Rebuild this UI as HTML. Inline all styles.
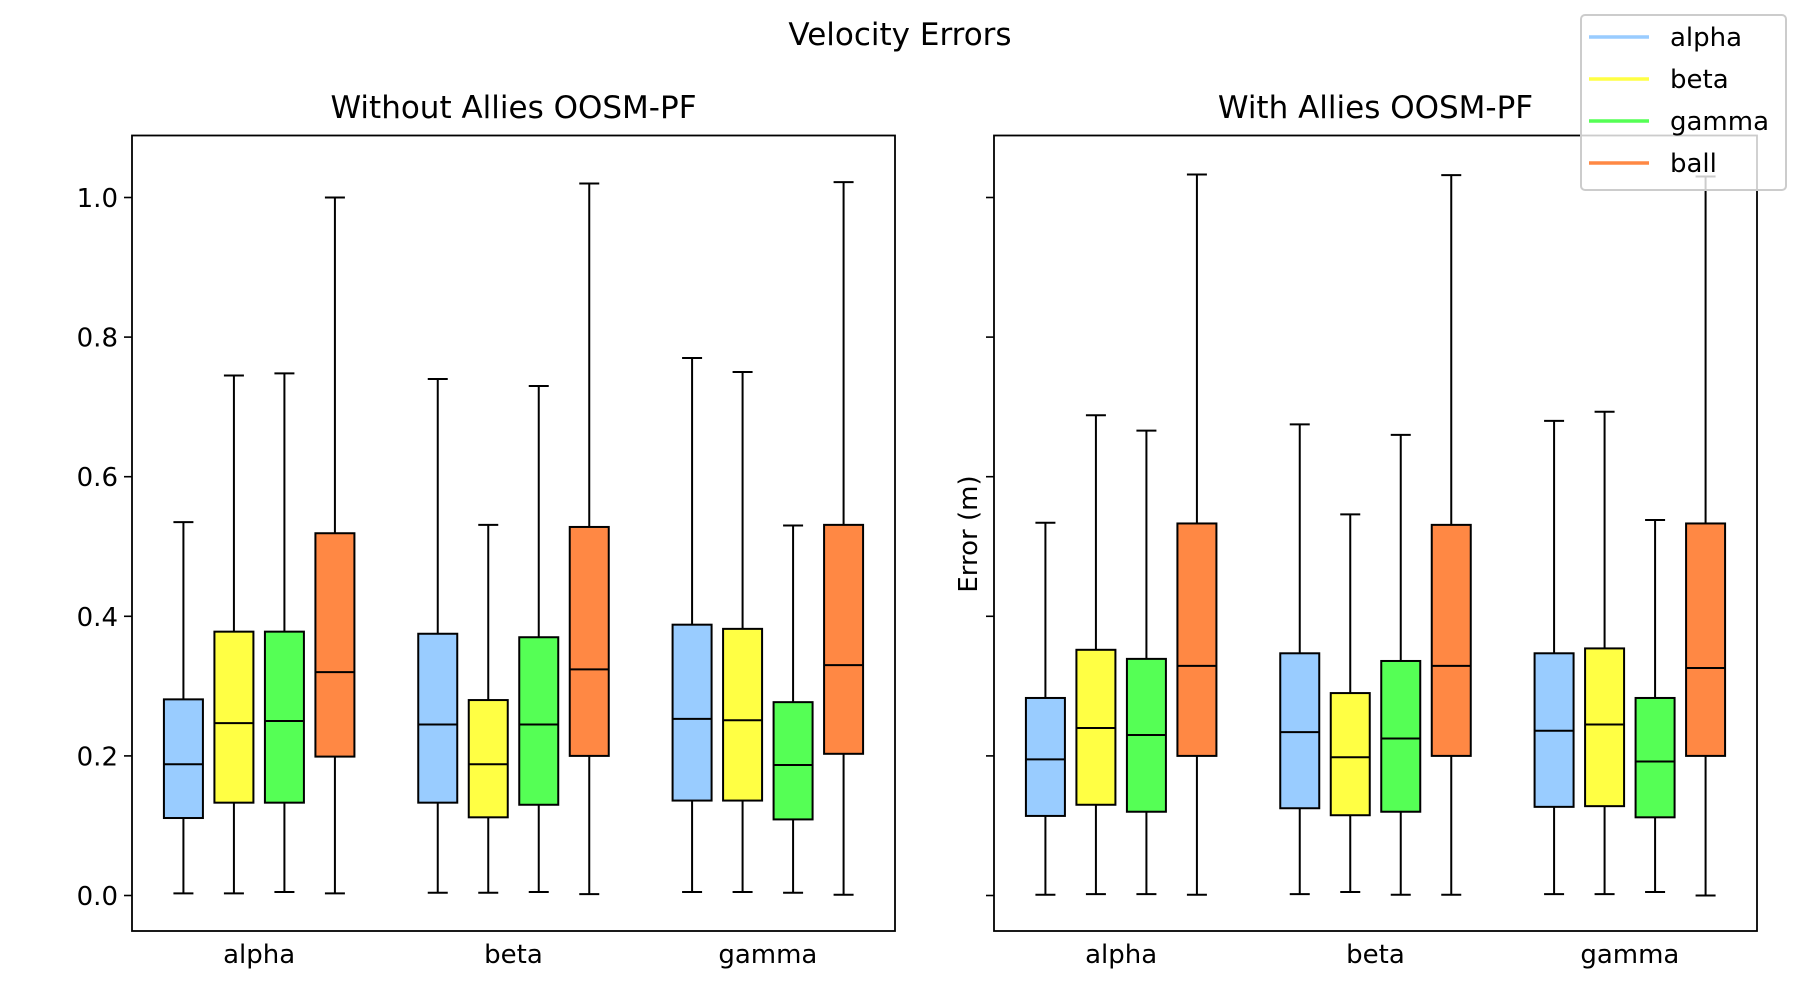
<!DOCTYPE html>
<html><head><meta charset="utf-8"><style>
body{margin:0;background:#fff}
svg{display:block;font-family:"DejaVu Sans","Liberation Sans",sans-serif}
</style></head><body>
<svg id="chart" width="1800" height="1000" viewBox="0 0 1800 1000"></svg>
<script>
const groups = ["alpha","beta","gamma"];
const series = ["alpha","beta","gamma","ball"];
const colors = ["#99ccff","#ffff44","#55ff55","#ff8844"];
const yTicks = [0,0.2,0.4,0.6,0.8,1.0];
const yTickLabels = ["0.0","0.2","0.4","0.6","0.8","1.0"];
// [low, q1, median, q3, high] per group per series
const leftData = [
 [[0.003,0.111,0.188,0.281,0.535],[0.003,0.133,0.247,0.378,0.745],[0.005,0.133,0.25,0.378,0.748],[0.003,0.199,0.32,0.519,1.0]],
 [[0.004,0.133,0.245,0.375,0.74],[0.004,0.112,0.188,0.28,0.531],[0.005,0.13,0.245,0.37,0.73],[0.002,0.2,0.324,0.528,1.02]],
 [[0.005,0.136,0.253,0.388,0.77],[0.005,0.136,0.251,0.382,0.75],[0.004,0.109,0.187,0.277,0.53],[0.001,0.203,0.33,0.531,1.022]]
];
const rightData = [
 [[0.001,0.114,0.195,0.283,0.534],[0.002,0.13,0.24,0.352,0.688],[0.002,0.12,0.23,0.339,0.666],[0.001,0.2,0.329,0.533,1.033]],
 [[0.002,0.125,0.234,0.347,0.675],[0.005,0.115,0.198,0.29,0.546],[0.001,0.12,0.225,0.336,0.66],[0.001,0.2,0.329,0.531,1.032]],
 [[0.002,0.127,0.236,0.347,0.68],[0.002,0.128,0.245,0.354,0.693],[0.005,0.112,0.192,0.283,0.538],[0.0,0.2,0.326,0.533,1.03]]
];
const svg = document.getElementById('chart');
const NS = "http://www.w3.org/2000/svg";
function mk(tag, attrs, parent){const e=document.createElementNS(NS,tag);for(const k in attrs)e.setAttribute(k,attrs[k]);(parent||svg).appendChild(e);return e;}
function txt(s, attrs, parent){const e=mk('text',attrs,parent);e.textContent=s;return e;}
const plotTop=135.5, plotBottom=931, y0=895.5, y1=197.5;
const Y = v => y0 + (y1-y0)*v;
function panel(left,right,title,data,showLabels,name){
  const g = mk('g',{});
  
  
  const gw=(right-left)/3;
  const X = (gi,si) => left + gw*(gi+0.5) + (si-1.5)*50.5;
  data.forEach((grp,gi)=>{
    grp.forEach((d,si)=>{
      const b = mk('g',{},g);
      
      
      const cx=X(gi,si), w=39;
      const st={stroke:'#000','stroke-width':2};
      mk('line',Object.assign({x1:cx,x2:cx,y1:Y(d[0]),y2:Y(d[1])},st),b);
      mk('line',Object.assign({x1:cx,x2:cx,y1:Y(d[3]),y2:Y(d[4])},st),b);
      mk('line',Object.assign({x1:cx-10,x2:cx+10,y1:Y(d[0]),y2:Y(d[0])},st),b);
      mk('line',Object.assign({x1:cx-10,x2:cx+10,y1:Y(d[4]),y2:Y(d[4])},st),b);
      mk('rect',Object.assign({x:cx-w/2,y:Y(d[3]),width:w,height:Y(d[1])-Y(d[3]),fill:colors[si]},st),b);
      mk('line',Object.assign({x1:cx-w/2,x2:cx+w/2,y1:Y(d[2]),y2:Y(d[2])},st),b);
    });
    const t=txt(groups[gi],{x:left+gw*(gi+0.5),y:963,'font-size':26,'text-anchor':'middle'},g);
    
    
  });
  yTicks.forEach((v,i)=>{
    mk('line',{x1:left-8,x2:left,y1:Y(v),y2:Y(v),stroke:'#000','stroke-width':1.6},g);
    if(showLabels){
      const t=txt(yTickLabels[i],{x:left-14,y:Y(v)+9.5,'font-size':26,'text-anchor':'end'},g);
      
      
    }
  });
  mk('rect',{x:left,y:plotTop,width:right-left,height:plotBottom-plotTop,fill:'none',stroke:'#000','stroke-width':1.8},g);
  const tt=txt(title,{x:(left+right)/2,y:118,'font-size':31,'text-anchor':'middle'},g);
  
  
}
panel(132,895,"Without Allies OOSM-PF",leftData,true,'left-panel');
panel(994,1757,"With Allies OOSM-PF",rightData,false,'right-panel');
const yl=txt("Error (m)",{x:0,y:0,'font-size':26,'text-anchor':'middle',transform:'translate(977,534) rotate(-90)'});


const st=txt("Velocity Errors",{x:900,y:45,'font-size':31,'text-anchor':'middle'});


const lg=mk('g',{});


mk('rect',{x:1581,y:15,width:205,height:175,rx:4,fill:'rgba(255,255,255,0.8)',stroke:'#ccc','stroke-width':2},lg);
series.forEach((s,i)=>{
  const e=mk('g',{},lg);
  
  
  const y=37+i*42;
  mk('line',{x1:1589,x2:1649,y1:y,y2:y,stroke:colors[i],'stroke-width':3.5},e);
  txt(s,{x:1670,y:y+9,'font-size':26},e);
});
</script>
</body></html>
